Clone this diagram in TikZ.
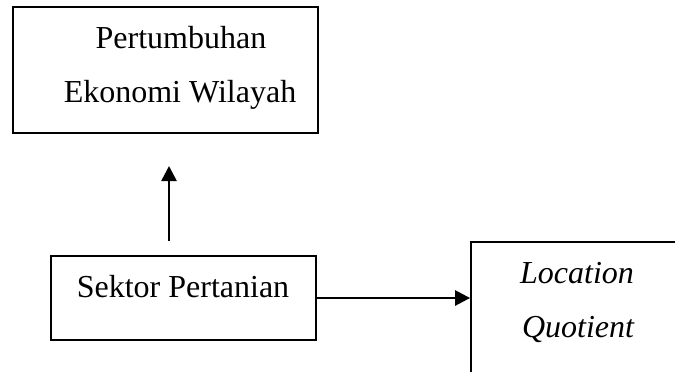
\documentclass[tikz,border=0pt]{standalone}
\usepackage{fontspec}
\setmainfont{Liberation Serif}
\usetikzlibrary{arrows.meta}
\begin{document}
\begin{tikzpicture}[x=0.5pt,y=-0.5pt]
	\tikzstyle{box} = [ draw, rectangle, line width=0.9pt, inner sep=0pt ];
	\tikzstyle{txt} = [ font={\fontsize{16}{27}\selectfont}, anchor=base, inner sep=0pt ];
	\tikzstyle{link} = [ -{Triangle[length=7.5pt,width=7.5pt]}, line width=1.3pt ];

	\useasboundingbox (0,0) rectangle (675,371);
	\clip (0,0) rectangle (675,371);

	\node[box, minimum width=152.5pt, minimum height=63pt] (growth) at (165.5,70) {};
	\node[box, minimum width=132.5pt, minimum height=42pt] (sektor) at (183.5,298) {};
	\node[box, minimum width=130pt, minimum height=100pt] (lq) at (601,342) {};

	\node[txt] (growth1) at (181,48) {Pertumbuhan};
	\node[txt] (growth2) at (180,102) {Ekonomi Wilayah};
	\node[txt] (sektor1) at (183,297) {Sektor Pertanian};
	\node[txt] (lq1) at (577,283) {\itshape Location};
	\node[txt] (lq2) at (578,337) {\itshape Quotient};

	\coordinate (upfoot) at (169,241);
	\coordinate (uptip) at (169,166);

	\draw[link] (upfoot) -- (uptip);
	\draw[link] (sektor.east) -- (sektor.east -| lq.west);
\end{tikzpicture}
\end{document}
